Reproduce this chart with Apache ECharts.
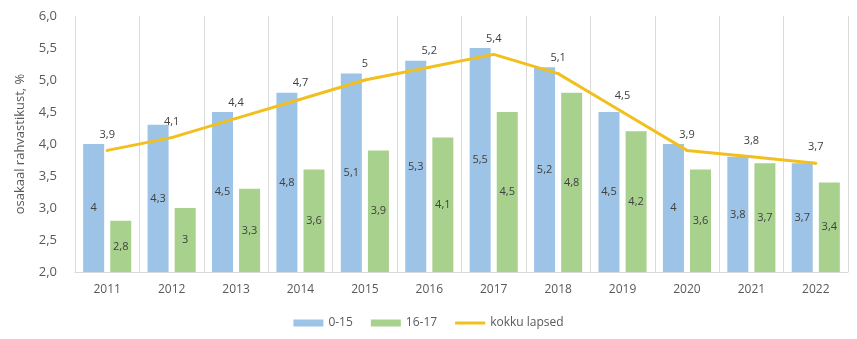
<!DOCTYPE html>
<html><head><meta charset="utf-8">
<script src="https://cdn.jsdelivr.net/npm/echarts@6/dist/echarts.min.js"></script>
<style>html,body{margin:0;padding:0;background:#fff}#c{width:857px;height:339px}</style>
</head><body><div id="c"></div>
<script>
const categories = ['2011','2012','2013','2014','2015','2016','2017','2018','2019','2020','2021','2022'];
const seriesNames = ['0-15','16-17','kokku lapsed'];
const values0to15 = [4, 4.3, 4.5, 4.8, 5.1, 5.3, 5.5, 5.2, 4.5, 4.0, 3.8, 3.7];
const values16to17 = [2.8, 3, 3.3, 3.6, 3.9, 4.1, 4.5, 4.8, 4.2, 3.6, 3.7, 3.4];
const valuesTotal = [3.9, 4.1, 4.4, 4.7, 5, 5.2, 5.4, 5.1, 4.5, 3.9, 3.8, 3.7];
const yAxisName = 'osakaal rahvastikust, %';

const FONT = '"Open Sans", "Liberation Sans", sans-serif';
const fmt = v => String(v).replace('.', ',');
const chart = echarts.init(document.getElementById('c'), null, {renderer:'canvas'});
chart.setOption({
  animation:false,
  textStyle:{fontFamily:FONT},
  grid:{left:75,right:9,top:16,bottom:67},
  legend:{
    bottom:5, left:'center', itemWidth:30, itemHeight:7, itemGap:18,
    textStyle:{color:'#595959',fontSize:12,fontFamily:FONT},
    data:[{name:seriesNames[0],icon:'rect'},{name:seriesNames[1],icon:'rect'},
          {name:seriesNames[2],icon:'path://M0 0H30V3H0Z'}]
  },
  xAxis:{
    type:'category', data:categories, boundaryGap:true,
    axisLine:{lineStyle:{color:'#d9d9d9'}}, axisTick:{show:false},
    axisLabel:{color:'#595959',fontSize:12,margin:12,fontFamily:FONT},
    splitLine:{show:true,lineStyle:{color:'#d9d9d9'}}
  },
  yAxis:{
    type:'value', min:2, max:6, interval:0.5,
    name:yAxisName, nameLocation:'middle', nameGap:48, nameRotate:90,
    nameTextStyle:{color:'#595959',fontSize:13,fontFamily:FONT},
    axisLine:{show:false}, axisTick:{show:false}, splitLine:{show:false},
    axisLabel:{color:'#595959',fontSize:13,margin:18,fontFamily:FONT,formatter:v=>v.toFixed(1).replace('.',',')}
  },
  series:[
    {name:seriesNames[0], type:'bar', data:values0to15, barWidth:21, barGap:'29%',
     itemStyle:{color:'#9dc3e6'},
     label:{show:true,position:'inside',color:'#404040',fontSize:11,formatter:p=>fmt(p.value)}},
    {name:seriesNames[1], type:'bar', data:values16to17, barWidth:21, barGap:'29%',
     itemStyle:{color:'#a9d18e'},
     label:{show:true,position:'inside',color:'#404040',fontSize:11,formatter:p=>fmt(p.value)}},
    {name:seriesNames[2], type:'line', data:valuesTotal, symbol:'circle', symbolSize:3, showSymbol:true, smooth:false,
     lineStyle:{color:'#f2c01e',width:3}, itemStyle:{color:'#f2c01e'},
     label:{show:true,position:'top',distance:9,color:'#404040',fontSize:11,formatter:p=>fmt(p.value)}, z:5}
  ]
});
</script></body></html>
